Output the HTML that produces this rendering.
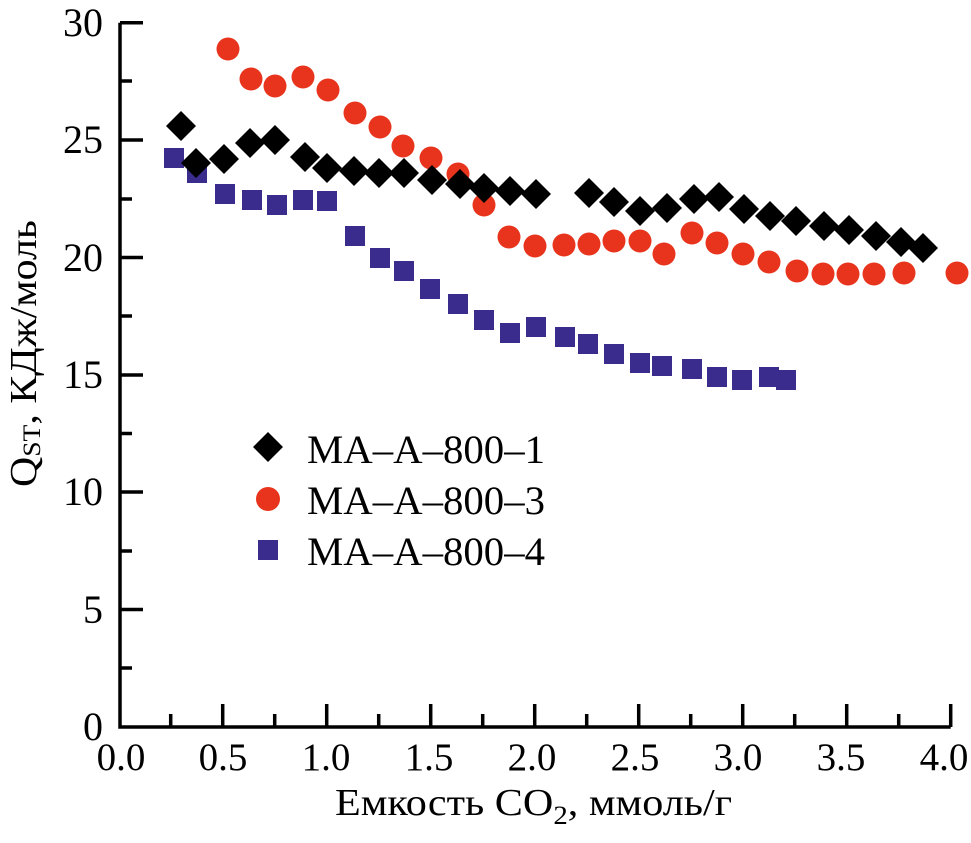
<!DOCTYPE html>
<html><head><meta charset="utf-8"><style>html,body{margin:0;padding:0;background:#fff}svg{display:block}</style></head>
<body>
<svg width="971" height="843" viewBox="0 0 971 843" xmlns="http://www.w3.org/2000/svg" font-family="Liberation Serif, serif">
<defs>
<path id="d" d="M0,-15 L15,0 L0,15 L-15,0 Z" fill="#000"/>
</defs>
<g stroke="#000" stroke-width="3.5" fill="none">
<path d="M120,22.7 V727 H950.7"/>
<path d="M120,22.7 h23 M120,140 h23 M120,257.5 h23 M120,375 h23 M120,492 h23 M120,609.5 h23 M120,81 h12 M120,199 h12 M120,316 h12 M120,433.5 h12 M120,551 h12 M120,668 h12"/>
<path d="M222.7,727 v-23 M326.7,727 v-23 M430.7,727 v-23 M534.7,727 v-23 M638.7,727 v-23 M742.7,727 v-23 M846.7,727 v-23 M950.7,727 v-23 M170.7,727 v-13 M274.7,727 v-13 M378.7,727 v-13 M482.7,727 v-13 M586.7,727 v-13 M690.7,727 v-13 M794.7,727 v-13 M898.7,727 v-13"/>
</g>
<g font-size="40" text-anchor="end" fill="#000">
<text x="103" y="36">30</text><text x="103" y="153">25</text><text x="103" y="271">20</text><text x="103" y="388">15</text><text x="103" y="505">10</text><text x="103" y="623">5</text><text x="103" y="740">0</text>
</g>
<g font-size="39" text-anchor="middle" fill="#000">
<text x="121" y="770">0.0</text><text x="223" y="770">0.5</text><text x="326" y="770">1.0</text><text x="429" y="770">1.5</text><text x="532" y="770">2.0</text><text x="635" y="770">2.5</text><text x="738" y="770">3.0</text><text x="841" y="770">3.5</text><text x="944" y="770">4.0</text>
</g>
<text x="335" y="815" font-size="38" textLength="397" lengthAdjust="spacingAndGlyphs">Емкость CO<tspan font-size="26" dy="9">2</tspan><tspan dy="-9">, ммоль/г</tspan></text>
<text transform="translate(36,487) rotate(-90)" font-size="38" textLength="267" lengthAdjust="spacingAndGlyphs">Q<tspan font-size="25" dy="4">ST</tspan><tspan dy="-4">, КДж/моль</tspan></text>

<g fill="#3a2c8c">
<rect x="164" y="148" width="20" height="20"/><rect x="187" y="163" width="20" height="20"/><rect x="215" y="184" width="20" height="20"/><rect x="242" y="190" width="20" height="20"/><rect x="267" y="195" width="20" height="20"/><rect x="293" y="190" width="20" height="20"/><rect x="317" y="191" width="20" height="20"/><rect x="345" y="226" width="20" height="20"/><rect x="370" y="248" width="20" height="20"/><rect x="394" y="261" width="20" height="20"/><rect x="420" y="279" width="20" height="20"/><rect x="448" y="294" width="20" height="20"/><rect x="474" y="310" width="20" height="20"/><rect x="500" y="323" width="20" height="20"/><rect x="526" y="317" width="20" height="20"/><rect x="555" y="327" width="20" height="20"/><rect x="578" y="334" width="20" height="20"/><rect x="604" y="344" width="20" height="20"/><rect x="630" y="353" width="20" height="20"/><rect x="652" y="356" width="20" height="20"/><rect x="682" y="359" width="20" height="20"/><rect x="707" y="367" width="20" height="20"/><rect x="732" y="370" width="20" height="20"/><rect x="759" y="367" width="20" height="20"/><rect x="776" y="370" width="20" height="20"/>
<rect x="258" y="540" width="20" height="20"/>
</g>
<g fill="#e8341c">
<circle cx="228" cy="49" r="11.5"/><circle cx="251" cy="79" r="11.5"/><circle cx="275" cy="86" r="11.5"/><circle cx="303" cy="77" r="11.5"/><circle cx="328" cy="90" r="11.5"/><circle cx="355" cy="113" r="11.5"/><circle cx="380" cy="127" r="11.5"/><circle cx="403" cy="146" r="11.5"/><circle cx="431" cy="158" r="11.5"/><circle cx="458" cy="174" r="11.5"/><circle cx="484" cy="205" r="11.5"/><circle cx="509" cy="237" r="11.5"/><circle cx="535" cy="246" r="11.5"/><circle cx="564" cy="245" r="11.5"/><circle cx="589" cy="244" r="11.5"/><circle cx="614" cy="241" r="11.5"/><circle cx="640" cy="241" r="11.5"/><circle cx="664" cy="254" r="11.5"/><circle cx="692" cy="233" r="11.5"/><circle cx="717" cy="243" r="11.5"/><circle cx="743" cy="254" r="11.5"/><circle cx="769" cy="262" r="11.5"/><circle cx="797" cy="271" r="11.5"/><circle cx="823" cy="274" r="11.5"/><circle cx="848" cy="274" r="11.5"/><circle cx="874" cy="274" r="11.5"/><circle cx="904" cy="273" r="11.5"/><circle cx="957" cy="273" r="11.5"/>
<circle cx="268" cy="499" r="12"/>
</g>
<g>
<use href="#d" x="181" y="126"/><use href="#d" x="196" y="163"/><use href="#d" x="224" y="159"/><use href="#d" x="250" y="143"/><use href="#d" x="275" y="140"/><use href="#d" x="305" y="157"/><use href="#d" x="327" y="168"/><use href="#d" x="354" y="171"/><use href="#d" x="379" y="173"/><use href="#d" x="404" y="173"/><use href="#d" x="432" y="180"/><use href="#d" x="460" y="184"/><use href="#d" x="484" y="188"/><use href="#d" x="510" y="191"/><use href="#d" x="536" y="194"/><use href="#d" x="589" y="193"/><use href="#d" x="614" y="202"/><use href="#d" x="640" y="211"/><use href="#d" x="667" y="208"/><use href="#d" x="694" y="199"/><use href="#d" x="719" y="197"/><use href="#d" x="744" y="209"/><use href="#d" x="770" y="216"/><use href="#d" x="796" y="221"/><use href="#d" x="824" y="226"/><use href="#d" x="849" y="230"/><use href="#d" x="876" y="236"/><use href="#d" x="901" y="242"/><use href="#d" x="923" y="248"/>
<use href="#d" x="268" y="447"/>
</g>
<g font-size="40" fill="#000">
<text x="307" y="463" textLength="238" lengthAdjust="spacingAndGlyphs">MA–A–800–1</text>
<text x="307" y="514" textLength="238" lengthAdjust="spacingAndGlyphs">MA–A–800–3</text>
<text x="307" y="565" textLength="238" lengthAdjust="spacingAndGlyphs">MA–A–800–4</text>
</g>
</svg>
</body></html>
